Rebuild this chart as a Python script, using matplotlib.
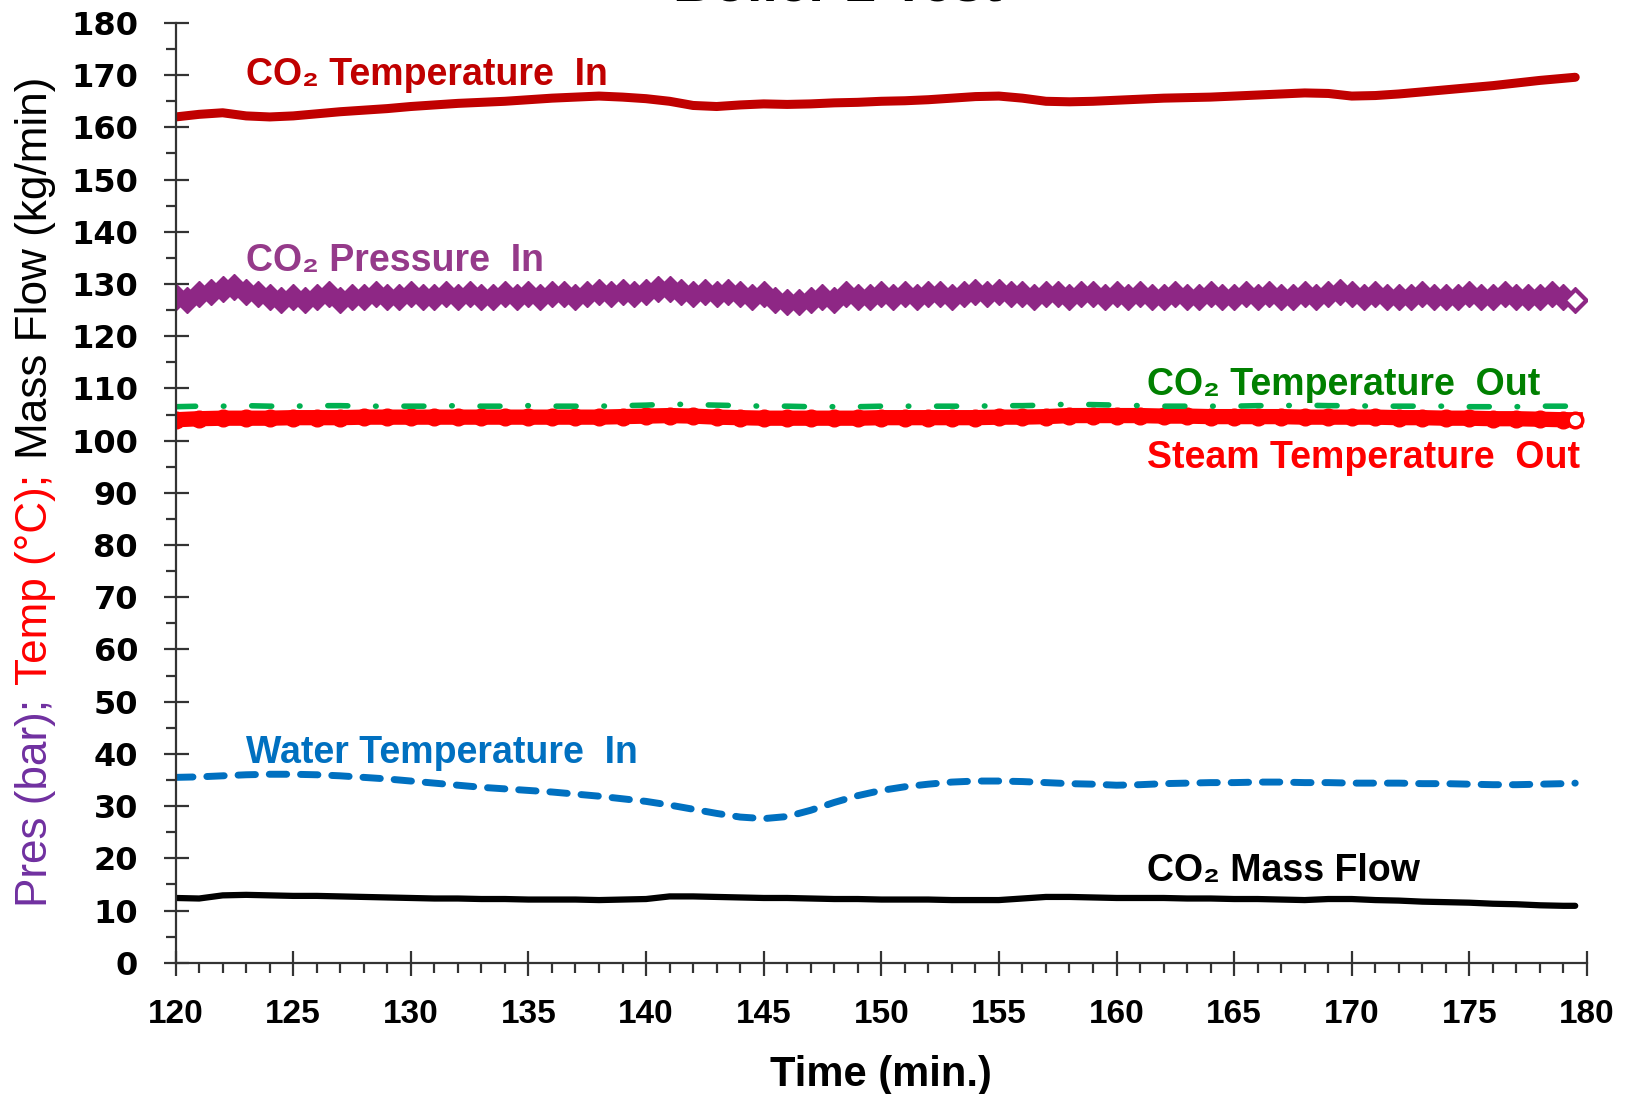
import numpy as np
import matplotlib
matplotlib.use("Agg")
import matplotlib.pyplot as plt

# tempo (min) - pontos a cada 1 min, mais o ultimo em 179.5
tempo = list(range(120, 180)) + [179.5]
# pressao lida com pontos a cada 0.5 min
tempo_p = list(np.arange(120, 180, 0.5))

co2_temp_in = [162.0, 162.5, 162.8, 162.2, 162.0, 162.2, 162.6, 163.0, 163.3, 163.6,
               164.0, 164.3, 164.6, 164.8, 165.0, 165.3, 165.6, 165.8, 166.0, 165.8,
               165.5, 165.0, 164.2, 164.0, 164.3, 164.5, 164.4, 164.5, 164.7, 164.8,
               165.0, 165.1, 165.3, 165.6, 165.9, 166.0, 165.6, 165.0, 164.9, 165.0,
               165.2, 165.4, 165.6, 165.7, 165.8, 166.0, 166.2, 166.4, 166.6, 166.5,
               166.0, 166.1, 166.4, 166.8, 167.2, 167.6, 168.0, 168.5, 169.0, 169.4, 169.6]

co2_pres_in = [127.5, 127, 128, 128.5, 129, 129.5, 128.5, 128, 127.5, 127,
               127.5, 127, 127.5, 128, 127, 127.5, 127.5, 128, 127.5, 127.5,
               128, 127.5, 127.5, 128, 127.5, 128, 127.5, 127.5, 128, 127.5,
               128, 127.5, 128, 128, 127.5, 128, 128.5, 128, 128.5, 128,
               128.5, 129, 129, 128.5, 128, 128.5, 128, 128.5, 128, 127.5,
               128, 127, 126.5, 126.5, 127, 127.5, 127, 128, 127.5, 127.5,
               128, 127.5, 128, 127.5, 128, 128, 127.5, 128, 128.5, 128,
               128.5, 128, 128, 127.5, 128, 128, 127.5, 128, 128, 127.5,
               128, 127.5, 128, 127.5, 127.5, 128, 127.5, 127.5, 128, 127.5,
               127.5, 128, 127.5, 128, 127.5, 127.5, 128, 127.5, 128, 128.5,
               128, 127.5, 128, 127.5, 127.5, 127.5, 128, 127.5, 127.5, 127.5,
               128, 127.5, 127.5, 128, 127.5, 127.5, 127.5, 128, 127.5, 127]

co2_temp_out = [106.5, 106.6, 106.6, 106.7, 106.6, 106.6, 106.7, 106.7, 106.6, 106.6,
                106.6, 106.6, 106.7, 106.6, 106.6, 106.7, 106.6, 106.6, 106.6, 106.7,
                106.8, 107.0, 106.9, 106.8, 106.7, 106.6, 106.6, 106.5, 106.5, 106.5,
                106.6, 106.6, 106.6, 106.6, 106.6, 106.7, 106.7, 106.8, 107.0, 106.9,
                106.8, 106.7, 106.6, 106.6, 106.6, 106.6, 106.7, 106.7, 106.8, 106.7,
                106.7, 106.6, 106.6, 106.6, 106.6, 106.5, 106.5, 106.5, 106.6, 106.6, 106.6]

steam_temp_out = [104.0, 104.2, 104.3, 104.3, 104.3, 104.4, 104.4, 104.4, 104.5, 104.5,
                  104.5, 104.5, 104.5, 104.5, 104.5, 104.5, 104.5, 104.5, 104.5, 104.6,
                  104.7, 104.8, 104.7, 104.5, 104.4, 104.3, 104.3, 104.3, 104.3, 104.3,
                  104.4, 104.4, 104.4, 104.4, 104.4, 104.5, 104.5, 104.6, 104.8, 104.8,
                  104.8, 104.8, 104.7, 104.7, 104.6, 104.6, 104.6, 104.6, 104.5, 104.5,
                  104.5, 104.5, 104.4, 104.4, 104.3, 104.3, 104.2, 104.2, 104.1, 104.0, 104.0]

water_temp_in = [35.5, 35.6, 35.8, 36.0, 36.1, 36.1, 36.0, 35.8, 35.5, 35.2,
                 34.8, 34.4, 34.0, 33.6, 33.3, 33.0, 32.7, 32.3, 31.9, 31.4,
                 30.9, 30.2, 29.4, 28.6, 27.9, 27.6, 28.0, 29.2, 30.7, 32.0,
                 33.0, 33.7, 34.2, 34.6, 34.8, 34.8, 34.7, 34.5, 34.3, 34.2,
                 34.0, 34.1, 34.3, 34.4, 34.5, 34.5, 34.6, 34.6, 34.5, 34.5,
                 34.4, 34.4, 34.4, 34.3, 34.3, 34.2, 34.1, 34.1, 34.2, 34.3, 34.4]

co2_mass_flow = [12.4, 12.3, 12.9, 13.0, 12.9, 12.8, 12.8, 12.7, 12.6, 12.5,
                 12.4, 12.3, 12.3, 12.2, 12.2, 12.1, 12.1, 12.1, 12.0, 12.1,
                 12.2, 12.7, 12.7, 12.6, 12.5, 12.4, 12.4, 12.3, 12.2, 12.2,
                 12.1, 12.1, 12.1, 12.0, 12.0, 12.0, 12.3, 12.6, 12.6, 12.5,
                 12.4, 12.4, 12.4, 12.3, 12.3, 12.2, 12.2, 12.1, 12.0, 12.2,
                 12.2, 12.0, 11.9, 11.7, 11.6, 11.5, 11.3, 11.2, 11.0, 10.9, 10.9]

fonte = ['Liberation Sans', 'DejaVu Sans']

fig = plt.figure(figsize=(16.26, 10.94), dpi=100)
ax = fig.add_axes([0.108, 0.12, 0.868, 0.859])

# Series
ax.plot(tempo, co2_temp_in, color='#C00000', lw=6.5, solid_capstyle='round')
ax.plot(tempo_p, co2_pres_in, color='#8E2785', lw=5, marker='D', ms=13, mec='#8E2785')
ax.plot(tempo_p[-1], co2_pres_in[-1], marker='D', ms=10, mfc='white', mec='#8E2785', mew=2)
ax.plot(tempo, steam_temp_out, color='#FF0000', lw=11, marker='o', ms=12)
ax.plot(tempo[-1], steam_temp_out[-1], marker='o', ms=10, mfc='white', mec='#FF0000', mew=2)
ax.plot(tempo, co2_temp_out, color='#00B050', lw=4, dashes=[3.6, 5.0, 0.1, 5.0],
        dash_capstyle='round')
ax.plot(tempo, water_temp_in, color='#0070C0', lw=5, dashes=[2.5, 2.0], dash_capstyle='round')
ax.plot(tempo, co2_mass_flow, color='black', lw=4.5, solid_capstyle='round')

# Rotulos das series
rot = dict(fontsize=27, fontweight='bold', family=fonte, va='center', ha='left')
ax.text(123.0, 170.1, 'CO₂ Temperature  In', color='#C00000', **rot)
ax.text(123.0, 134.4, 'CO₂ Pressure  In', color='#953A8A', **rot)
ax.text(161.3, 110.7, 'CO₂ Temperature  Out', color='#008000', **rot)
ax.text(161.3, 96.7, 'Steam Temperature  Out', color='#FF0000', **rot)
ax.text(123.0, 40.2, 'Water Temperature  In', color='#0070C0', **rot)
ax.text(161.3, 17.6, 'CO₂ Mass Flow', color='black', **rot)

# Eixos
ax.set_xlim(120, 180)
ax.set_ylim(0, 180)
ax.set_xticks(range(120, 181, 5))
ax.set_xticks(range(120, 181, 1), minor=True)
ax.set_yticks(range(0, 181, 10))
ax.set_yticks(range(0, 181, 5), minor=True)
for s in ['top', 'right']:
    ax.spines[s].set_visible(False)
for s in ['left', 'bottom']:
    ax.spines[s].set_linewidth(1.6)
    ax.spines[s].set_color('#333333')
ax.tick_params(which='major', direction='inout', length=18, width=1.6, color='#333333')
ax.tick_params(which='minor', direction='out', length=7, width=1.6, color='#333333')
ax.tick_params(axis='y', which='major', pad=18)
ax.tick_params(axis='x', which='major', pad=17)
for lb in ax.get_yticklabels():
    lb.set_fontfamily('DejaVu Sans')
    lb.set_fontweight('bold')
    lb.set_fontsize(23)
for lb in ax.get_xticklabels():
    lb.set_fontfamily(fonte)
    lb.set_fontweight('bold')
    lb.set_fontsize(24)

ax.set_xlabel('Time (min.)', fontsize=30, fontweight='bold', family=fonte, labelpad=18)

# Titulo (cortado no topo da figura, como no original)
fig.text(0.515, 0.9995, 'Boiler 2 Test', fontsize=40, fontweight='bold', family=fonte,
         ha='center', va='baseline')

# Rotulo do eixo y em tres cores
partes = [('Pres (bar);', '#7030A0'), ('Temp (°C);', '#FF0000'), ('Mass Flow (kg/min)', 'black')]
fonte_y = ['Liberation Sans Narrow', 'Liberation Sans', 'DejaVu Sans']
renderer = fig.canvas.get_renderer()
H = fig.bbox.height
tam = 30
total = 0
textos = []
for s, c in partes:
    t = fig.text(0.022, 0.5, s, rotation=90, fontsize=tam, color=c, family=fonte_y,
                 ha='center', va='bottom')
    textos.append(t)
    total += t.get_window_extent(renderer).height
gap = tam * 0.45
total += 2 * gap
escala = 830 / total
y = (1094 - 907)
for t in textos:
    t.set_fontsize(tam * escala)
    t.set_position((0.022, y / H))
    y += t.get_window_extent(renderer).height + gap * escala

fig.savefig('out.png', dpi=100)
